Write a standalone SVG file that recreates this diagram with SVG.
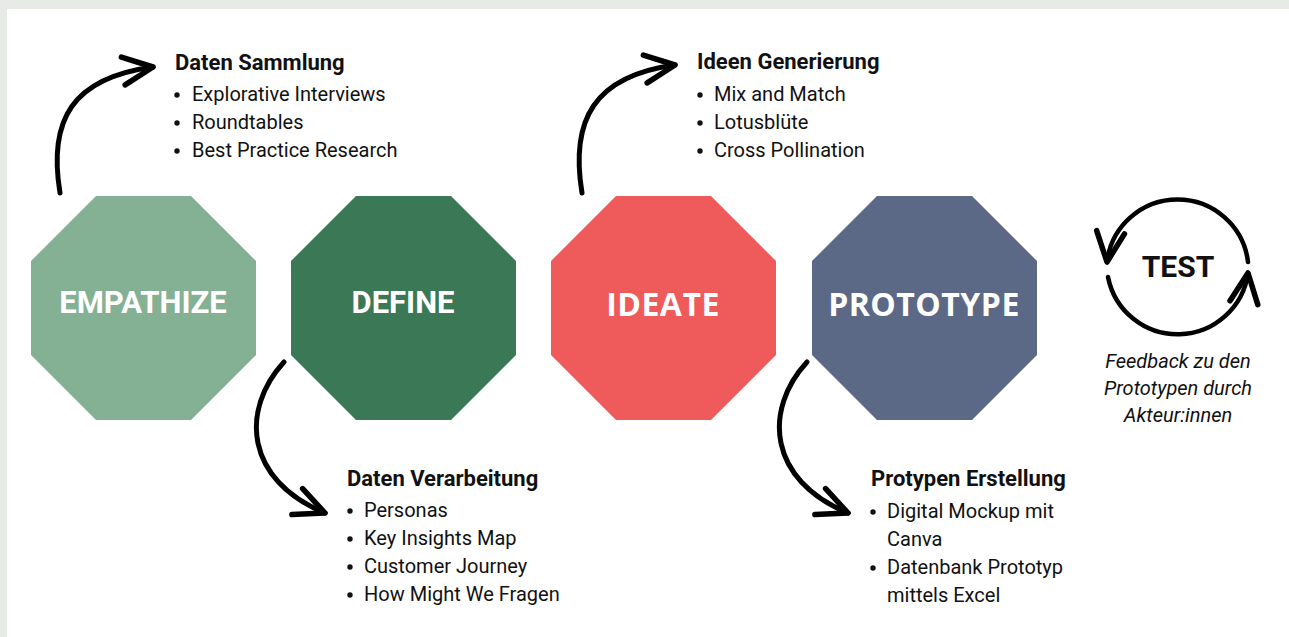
<svg xmlns="http://www.w3.org/2000/svg" width="1289" height="637" viewBox="0 0 1289 637">
  <style>
    .oct-label { font-family: Roboto, "Liberation Sans", sans-serif; font-weight: 700; font-size: 31px; fill: #ffffff; text-anchor: middle; }
    .oct-label-wide { font-family: "Open Sans", "DejaVu Sans", sans-serif; font-weight: 700; font-size: 32px; fill: #ffffff; text-anchor: middle; letter-spacing: 0.5px; }
    .head { font-family: Roboto, "Liberation Sans", sans-serif; font-weight: 700; font-size: 22px; fill: #111111; }
    .item { font-family: Roboto, "Liberation Sans", sans-serif; font-weight: 400; font-size: 20px; fill: #111111; }
    .dot { fill: #111111; }
    .note { font-family: Roboto, "Liberation Sans", sans-serif; font-style: italic; font-size: 20px; fill: #111111; text-anchor: middle; }
    .test { font-family: Roboto, "Liberation Sans", sans-serif; font-weight: 700; font-size: 30px; fill: #111111; text-anchor: middle; }
    .flow { fill: none; stroke: #000000; stroke-width: 5; stroke-linecap: round; stroke-linejoin: round; }
    .cycle { fill: none; stroke: #000000; stroke-width: 4.5; stroke-linecap: round; stroke-linejoin: round; }
  </style>
  <defs>
    <!-- open chevron head for the hand-drawn arrows -->
    <marker id="head" markerUnits="userSpaceOnUse" viewBox="-36 -20 42 40" refX="0" refY="0" markerWidth="42" markerHeight="40" orient="auto">
      <path d="M-30,-14 L0,0 L-30,14" fill="none" stroke="#000000" stroke-width="5.5" stroke-linecap="round" stroke-linejoin="round"/>
    </marker>
    <polygon id="octagon" points="65,0 160,0 225,65 225,159 160,224 65,224 0,159 0,65"/>
    <circle id="bullet" r="2.7"/>
  </defs>

  <!-- page frame -->
  <rect x="0" y="0" width="1289" height="637" fill="#e6ebe5"/>
  <rect x="7" y="9" width="1282" height="628" fill="#ffffff"/>

  <!-- phases -->
  <g id="empathize">
    <use href="#octagon" x="31" y="196" fill="#84b193"/>
    <text class="oct-label" x="143" y="313">EMPATHIZE</text>
  </g>
  <g id="define">
    <use href="#octagon" x="291" y="196" fill="#3b7856"/>
    <text class="oct-label" x="403" y="313">DEFINE</text>
  </g>
  <g id="ideate">
    <use href="#octagon" x="551" y="196" fill="#ef5a5b"/>
    <text class="oct-label-wide" x="663" y="316">IDEATE</text>
  </g>
  <g id="prototype">
    <use href="#octagon" x="812" y="196" fill="#5c6986"/>
    <text class="oct-label-wide" x="924" y="316">PROTOTYPE</text>
  </g>

  <!-- method lists -->
  <g id="daten-sammlung">
    <text class="head" x="175" y="70">Daten Sammlung</text>
    <use href="#bullet" class="dot" x="177" y="95"/>
    <use href="#bullet" class="dot" x="177" y="123"/>
    <use href="#bullet" class="dot" x="177" y="151"/>
    <text class="item" x="192" y="101">Explorative Interviews</text>
    <text class="item" x="192" y="129">Roundtables</text>
    <text class="item" x="192" y="157">Best Practice Research</text>
  </g>
  <g id="daten-verarbeitung">
    <text class="head" x="347" y="486">Daten Verarbeitung</text>
    <use href="#bullet" class="dot" x="350" y="511"/>
    <use href="#bullet" class="dot" x="350" y="539"/>
    <use href="#bullet" class="dot" x="350" y="567"/>
    <use href="#bullet" class="dot" x="350" y="595"/>
    <text class="item" x="364" y="517">Personas</text>
    <text class="item" x="364" y="545">Key Insights Map</text>
    <text class="item" x="364" y="573">Customer Journey</text>
    <text class="item" x="364" y="601">How Might We Fragen</text>
  </g>
  <g id="ideen-generierung">
    <text class="head" x="697" y="69">Ideen Generierung</text>
    <use href="#bullet" class="dot" x="700" y="95"/>
    <use href="#bullet" class="dot" x="700" y="123"/>
    <use href="#bullet" class="dot" x="700" y="151"/>
    <text class="item" x="714" y="101">Mix and Match</text>
    <text class="item" x="714" y="129">Lotusblüte</text>
    <text class="item" x="714" y="157">Cross Pollination</text>
  </g>
  <g id="protypen-erstellung">
    <text class="head" x="871" y="486">Protypen Erstellung</text>
    <use href="#bullet" class="dot" x="873" y="512"/>
    <use href="#bullet" class="dot" x="873" y="568"/>
    <text class="item" x="887" y="518">Digital Mockup mit</text>
    <text class="item" x="887" y="546">Canva</text>
    <text class="item" x="887" y="574">Datenbank Prototyp</text>
    <text class="item" x="887" y="602">mittels Excel</text>
  </g>

  <!-- test cycle -->
  <g id="test">
    <path class="cycle" d="M1248,262 A71,71 0 0 0 1107,262" marker-end="url(#head)"/>
    <path class="cycle" d="M1108,277 A71,71 0 0 0 1248,273" marker-end="url(#head)"/>
    <text class="test" x="1178" y="277">TEST</text>
    <text class="note" x="1178" y="368">Feedback zu den</text>
    <text class="note" x="1178" y="395">Prototypen durch</text>
    <text class="note" x="1178" y="422">Akteur:innen</text>
  </g>

  <!-- connectors -->
  <g id="connectors">
    <path class="flow" d="M60,193 C48,120 72,78 153,67" marker-end="url(#head)"/>
    <path class="flow" d="M284,362 C240,410 245,480 325,513" marker-end="url(#head)"/>
    <path class="flow" d="M582,193 C570,120 594,76 675,65" marker-end="url(#head)"/>
    <path class="flow" d="M807,362 C763,410 768,480 848,513" marker-end="url(#head)"/>
  </g>
</svg>
